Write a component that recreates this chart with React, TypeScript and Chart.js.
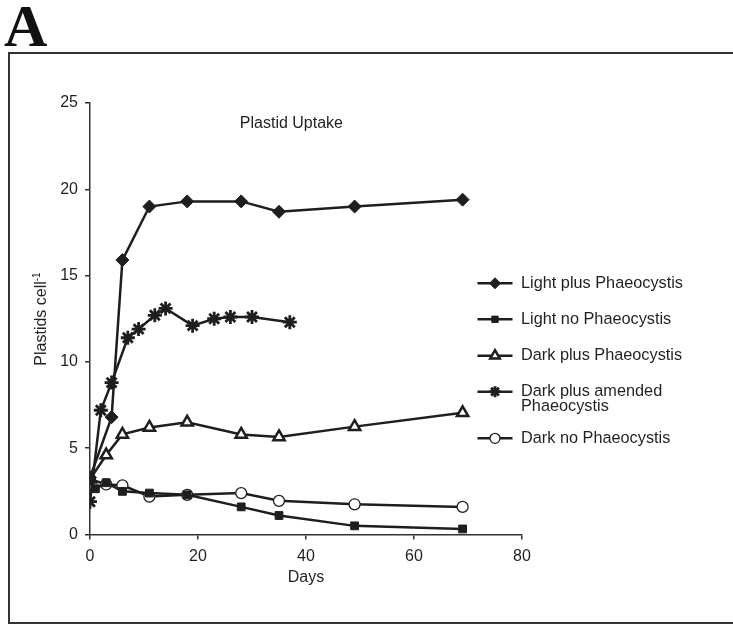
import React, { useEffect, useRef } from "react";
import { Chart, registerables } from "chart.js";
import { drawPoint } from "chart.js/helpers";

Chart.register(...registerables);

const seriesNames = [
  "Light plus Phaeocystis",
  "Light no Phaeocystis",
  "Dark plus Phaeocystis",
  "Dark plus amended Phaeocystis",
  "Dark no Phaeocystis",
];

const lightPlusDays = [0, 4, 6, 11, 18, 28, 35, 49, 69];
const lightPlusValues = [3.3, 6.8, 15.9, 19.0, 19.3, 19.3, 18.7, 19.0, 19.4];

const lightNoDays = [0, 1, 3, 6, 11, 18, 28, 35, 49, 69];
const lightNoValues = [3.2, 2.65, 3.0, 2.5, 2.4, 2.3, 1.6, 1.1, 0.5, 0.32];

const darkPlusDays = [0, 3, 6, 11, 18, 28, 35, 49, 69];
const darkPlusValues = [3.2, 4.6, 5.8, 6.2, 6.5, 5.8, 5.65, 6.25, 7.05];

const darkAmendedDays = [0, 2, 4, 7, 9, 12, 14, 19, 23, 26, 30, 37];
const darkAmendedValues = [1.9, 7.2, 8.8, 11.4, 11.9, 12.7, 13.1, 12.1, 12.5, 12.6, 12.6, 12.3];

const darkNoDays = [0, 3, 6, 11, 18, 28, 35, 49, 69];
const darkNoValues = [3.2, 2.9, 2.85, 2.2, 2.3, 2.4, 1.95, 1.75, 1.6];

const xTicks = [0, 20, 40, 60, 80];
const yTicks = [0, 5, 10, 15, 20, 25];

const INK = "#1e1e1e";
const TEXT = "#231f20";
const FONT = "'Liberation Sans', Arial, sans-serif";

const styles = [
  { pointStyle: "rectRot", radius: 6.5, fill: INK, bw: 1, legendR: 5.5 },
  { pointStyle: "rect", radius: 5.5, fill: INK, bw: 1, legendR: 4.5 },
  { pointStyle: "triangle", radius: 6.5, fill: "#ffffff", bw: 2.5, legendR: 5.5 },
  { pointStyle: "star", radius: 7, fill: INK, bw: 2.8, legendR: 5.5 },
  { pointStyle: "circle", radius: 5.5, fill: "#ffffff", bw: 1.3, legendR: 5 },
];

const allDays = [lightPlusDays, lightNoDays, darkPlusDays, darkAmendedDays, darkNoDays];
const allValues = [lightPlusValues, lightNoValues, darkPlusValues, darkAmendedValues, darkNoValues];

const decorPlugin = {
  id: "decor",
  afterDraw(chart: any) {
    const ctx = chart.ctx as CanvasRenderingContext2D;
    const xs = chart.scales.x;
    const ys = chart.scales.y;
    ctx.save();
    // frame
    ctx.strokeStyle = "#333333";
    ctx.lineWidth = 2;
    ctx.strokeRect(9, 53, 740, 570);
    // big letter
    ctx.fillStyle = "#111111";
    ctx.font = "bold 60px 'Liberation Serif', 'Times New Roman', serif";
    ctx.textAlign = "left";
    ctx.textBaseline = "alphabetic";
    ctx.fillText("A", 4, 46);
    // title in plot
    ctx.fillStyle = TEXT;
    ctx.font = `16px ${FONT}`;
    ctx.textAlign = "center";
    ctx.textBaseline = "middle";
    ctx.fillText("Plastid Uptake", xs.getPixelForValue(37.3), ys.getPixelForValue(23.8));
    // x title
    ctx.fillText("Days", xs.getPixelForValue(40), 578);
    // y title with superscript
    ctx.save();
    ctx.translate(42, 319);
    ctx.rotate(-Math.PI / 2);
    ctx.font = `16px ${FONT}`;
    const main = "Plastids cell";
    const wMain = ctx.measureText(main).width;
    ctx.font = `10px ${FONT}`;
    const sup = "-1";
    const wSup = ctx.measureText(sup).width;
    const total = wMain + wSup;
    ctx.textAlign = "left";
    ctx.textBaseline = "middle";
    ctx.font = `16px ${FONT}`;
    ctx.fillText(main, -total / 2, 0);
    ctx.font = `10px ${FONT}`;
    ctx.fillText(sup, -total / 2 + wMain, -5);
    ctx.restore();
    // legend
    const rows = [
      [283.3],
      [319.3],
      [355.7],
      [391.7, 406.7],
      [438.3],
    ];
    const labelLines = [
      ["Light plus Phaeocystis"],
      ["Light no Phaeocystis"],
      ["Dark plus Phaeocystis"],
      ["Dark plus amended", "Phaeocystis"],
      ["Dark no Phaeocystis"],
    ];
    for (let i = 0; i < rows.length; i++) {
      const y = rows[i][0];
      ctx.strokeStyle = INK;
      ctx.lineWidth = 2.5;
      ctx.beginPath();
      ctx.moveTo(477.5, y);
      ctx.lineTo(512.5, y);
      ctx.stroke();
      const s = styles[i];
      ctx.fillStyle = s.fill;
      ctx.strokeStyle = INK;
      ctx.lineWidth = s.bw;
      drawPoint(ctx, { pointStyle: s.pointStyle as any, radius: s.legendR, rotation: 0, borderWidth: s.bw }, 495, y);
      ctx.fillStyle = TEXT;
      ctx.font = `16.3px ${FONT}`;
      ctx.textAlign = "left";
      ctx.textBaseline = "middle";
      labelLines[i].forEach((t, k) => ctx.fillText(t, 521, rows[i][k] ?? y + 15 * k));
    }
    ctx.restore();
  },
};

export default function App() {
  const ref = useRef<HTMLCanvasElement | null>(null);
  useEffect(() => {
    if (!ref.current) return;
    const datasets = seriesNames.map((name, i) => ({
      label: name,
      data: allDays[i].map((d, k) => ({ x: d, y: allValues[i][k] })),
      showLine: true,
      borderColor: INK,
      borderWidth: 2.5,
      pointStyle: styles[i].pointStyle,
      pointRadius: styles[i].radius,
      pointBackgroundColor: styles[i].fill,
      pointBorderColor: INK,
      pointBorderWidth: styles[i].bw,
      tension: 0,
      order: i,
    }));
    const chart = new Chart(ref.current, {
      type: "scatter",
      data: { datasets },
      options: {
        responsive: false,
        animation: false,
        events: [],
        layout: { padding: { left: 0, right: 211, top: 103, bottom: 0 } },
        plugins: { legend: { display: false }, tooltip: { enabled: false }, title: { display: false } },
        scales: {
          x: {
            type: "linear",
            min: 0,
            max: 80,
            afterFit: (s: any) => { s.height = 90.5; },
            afterBuildTicks: (s: any) => { s.ticks = xTicks.map((v) => ({ value: v })); },
            ticks: { color: TEXT, font: { family: FONT, size: 16 }, padding: 7, maxRotation: 0 },
            grid: { drawOnChartArea: false, drawTicks: true, tickLength: 5, color: "#333333", lineWidth: 1.5 },
            border: { display: true, color: "#333333", width: 1.5 },
          },
          y: {
            type: "linear",
            min: 0,
            max: 25,
            afterFit: (s: any) => { s.width = 90; },
            afterBuildTicks: (s: any) => { s.ticks = yTicks.map((v) => ({ value: v })); },
            ticks: { color: TEXT, font: { family: FONT, size: 16 }, padding: 7 },
            grid: { drawOnChartArea: false, drawTicks: true, tickLength: 5, color: "#333333", lineWidth: 1.5 },
            border: { display: true, color: "#333333", width: 1.5 },
          },
        },
      },
      plugins: [decorPlugin],
    } as any);
    return () => chart.destroy();
  }, []);
  return (
    <div style={{ position: "absolute", left: 0, top: 0, width: 733, height: 625, background: "#fff" }}>
      <canvas ref={ref} width={733} height={625} style={{ display: "block", width: 733, height: 625 }} />
    </div>
  );
}
